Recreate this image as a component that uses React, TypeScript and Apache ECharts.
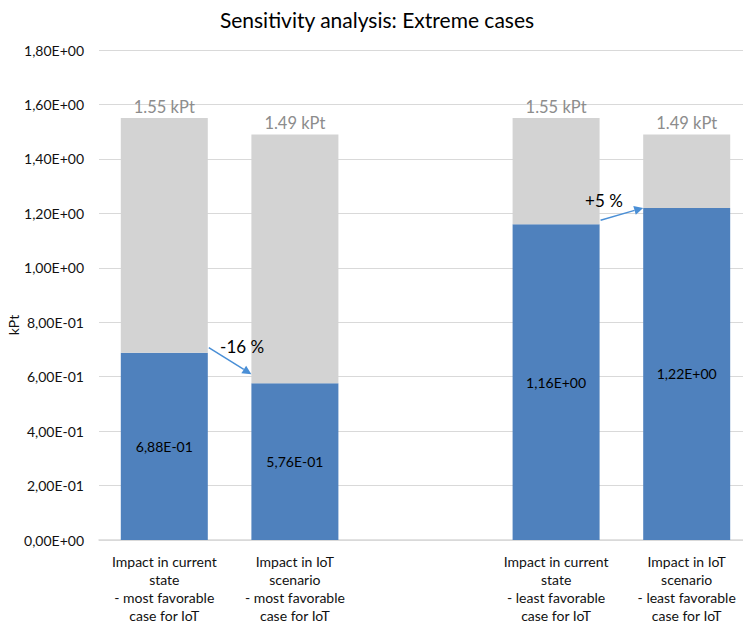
import React, { useEffect, useRef } from "react";
import * as echarts from "echarts";

const categories = [
  "Impact in current\nstate\n- most favorable\ncase for IoT",
  "Impact in IoT\nscenario\n- most favorable\ncase for IoT",
  "",
  "Impact in current\nstate\n- least favorable\ncase for IoT",
  "Impact in IoT\nscenario\n- least favorable\ncase for IoT",
];
const blueValues: (number | null)[] = [0.688, 0.576, null, 1.16, 1.22];
const totalValues: (number | null)[] = [1.55, 1.49, null, 1.55, 1.49];
const changeLabels = ["-16 %", "+5 %"];

const FONT = "Lato, 'Open Sans', sans-serif";
const BAR_W = 87;

function sci(v: number): string {
  const s = v.toExponential(2);
  const [m, e] = s.split("e");
  const sign = e[0] === "-" ? "-" : "+";
  const digits = e.replace(/[+-]/, "").padStart(2, "0");
  return m.replace(".", ",") + "E" + sign + digits;
}

export default function App() {
  const ref = useRef<HTMLDivElement>(null);
  useEffect(() => {
    if (!ref.current) return;
    const chart = echarts.init(ref.current, null, { renderer: "svg" });
    const grayValues = totalValues.map((t, i) =>
      t == null || blueValues[i] == null ? null : +(t - (blueValues[i] as number)).toFixed(4)
    );
    chart.setOption({
      animation: false,
      backgroundColor: "#fff",
      title: {
        text: "Sensitivity analysis: Extreme cases",
        left: 372,
        textAlign: "center",
        top: 4,
        textStyle: { fontFamily: FONT, fontSize: 21, fontWeight: "normal", color: "#000" },
      },
      grid: { left: 99, top: 50, width: 653, height: 490 },
      xAxis: {
        type: "category",
        data: categories,
        axisLine: { lineStyle: { color: "#d9d9d9", width: 1.5 } },
        axisTick: { show: false },
        axisLabel: {
          interval: 0,
          margin: 12,
          fontFamily: FONT,
          fontSize: 14,
          lineHeight: 18,
          color: "#111",
          align: "center",
        },
      },
      yAxis: {
        type: "value",
        min: 0,
        max: 1.8,
        interval: 0.2,
        axisLine: { show: false },
        axisTick: { show: false },
        splitLine: { lineStyle: { color: "#d9d9d9", width: 1 } },
        axisLabel: {
          margin: 15,
          fontFamily: FONT,
          fontSize: 14,
          color: "#111",
          formatter: (v: number) => sci(v),
        },
      },
      series: [
        {
          type: "bar",
          stack: "s",
          data: blueValues,
          barWidth: BAR_W,
          itemStyle: { color: "#4f81bd" },
          label: {
            show: true,
            position: "inside",
            fontFamily: FONT,
            fontSize: 14,
            color: "#000",
            formatter: (p: any) => (p.value == null ? "" : sci(p.value)),
          },
        },
        {
          type: "bar",
          stack: "s",
          data: grayValues,
          barWidth: BAR_W,
          itemStyle: { color: "#d3d3d3" },
          label: {
            show: true,
            position: "top",
            distance: 3,
            fontFamily: FONT,
            fontSize: 16.5,
            color: "#8c8c8c",
            formatter: (p: any) =>
              totalValues[p.dataIndex] == null ? "" : (totalValues[p.dataIndex] as number).toFixed(2) + " kPt",
          },
        },
      ],
    });

    // Arrow annotations computed from the chart's scales
    const px = (c: number, v: number) => chart.convertToPixel({ gridIndex: 0 }, [c, v]) as number[];
    const arrow = (x1: number, y1: number, x2: number, y2: number) => {
      const ang = Math.atan2(y2 - y1, x2 - x1);
      const L = 9, W = 4.5;
      const bx = x2 - L * Math.cos(ang), by = y2 - L * Math.sin(ang);
      const nx = -Math.sin(ang), ny = Math.cos(ang);
      return [
        {
          type: "line",
          z: 100,
          shape: { x1, y1, x2: bx, y2: by },
          style: { stroke: "#4a8fd6", lineWidth: 1.5 },
        },
        {
          type: "polygon",
          z: 100,
          shape: { points: [[x2, y2], [bx + nx * W, by + ny * W], [bx - nx * W, by - ny * W]] },
          style: { fill: "#4a8fd6" },
        },
      ];
    };
    const pairs: [number, number, string][] = [
      [0, 1, changeLabels[0]],
      [3, 4, changeLabels[1]],
    ];
    const elements: any[] = [];
    pairs.forEach(([a, b, txt], k) => {
      const pa = px(a, blueValues[a] as number);
      const pb = px(b, blueValues[b] as number);
      const x1 = pa[0] + BAR_W / 2 + 1;
      const x2 = pb[0] - BAR_W / 2;
      let y1: number, y2: number;
      if (k === 0) {
        y1 = pa[1] - 5;
        y2 = pb[1] - 9;
      } else {
        y1 = pa[1] - 4;
        y2 = pb[1];
      }
      elements.push(...arrow(x1, y1, x2, y2));
      const tx = k === 0 ? (x1 + x2) / 2 + 12 : (x1 + x2) / 2 - 18;
      const ty = k === 0 ? y1 - 1 : Math.min(y1, y2) - 7;
      elements.push({
        type: "text",
        z: 100,
        x: tx,
        y: ty,
        style: {
          text: txt,
          fontFamily: FONT,
          fontSize: 17,
          fill: "#000",
          align: "center",
          verticalAlign: "middle",
        },
      });
    });
    elements.push({
      type: "text",
      z: 100,
      x: 13,
      y: 325,
      rotation: Math.PI / 2,
      style: {
        text: "kPt",
        fontFamily: FONT,
        fontSize: 14,
        fill: "#111",
        align: "center",
        verticalAlign: "middle",
      },
    });
    chart.setOption({ graphic: { elements } });

    return () => chart.dispose();
  }, []);
  return (
    <div style={{ position: "absolute", left: 0, top: 0, width: 743, height: 624, overflow: "hidden" }}>
      <div ref={ref} style={{ width: 770, height: 624 }} />
    </div>
  );
}
